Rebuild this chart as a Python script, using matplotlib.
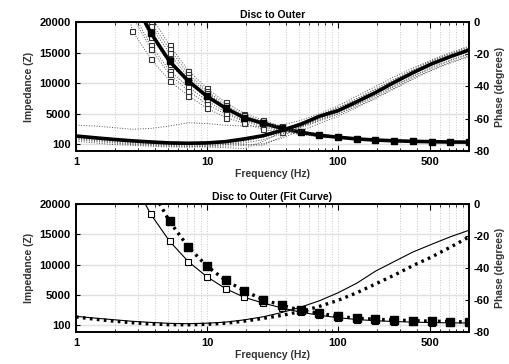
import matplotlib
matplotlib.use("Agg")
import matplotlib.pyplot as plt
from matplotlib.ticker import FixedLocator, FixedFormatter, NullFormatter, LogLocator

plt.rcParams['font.family'] = ['Liberation Sans', 'DejaVu Sans']

# frequencies, 7 per decade
freq = [1, 1.39, 1.93, 2.68, 3.73, 5.18, 7.2, 10, 13.9, 19.3, 26.8, 37.3, 51.8,
        72, 100, 139, 193, 268, 373, 518, 720, 1000]

# top panel: mean impedance and phase
imp_mean = [150000, 90000, 50000, 24000, 18200, 13600, 10400, 7900, 5950, 4400, 3500,
            2700, 2050, 1550, 1250, 960, 780, 660, 570, 510, 460, 440]
ph_mean = [-70.7, -71.8, -72.8, -73.7, -74.4, -75.0, -75.2, -75.0, -74.2, -72.5, -70.5,
           -67.2, -63.5, -58.5, -55.0, -49.5, -43.8, -37.5, -31.5, -26.0, -21.5, -17.4]

# top panel: individual samples
imp_a = [200000, 110000, 62000, 28000, 21000, 16200, 12100, 9200, 6900, 5100, 4000, 3000, 2300, 1750, 1400, 1080, 880, 740, 640, 570, 510, 490]
imp_b = [190000, 105000, 60000, 27000, 19900, 15600, 11500, 8800, 6500, 4800, 3800, 2850, 2200, 1650, 1330, 1020, 830, 700, 600, 540, 485, 465]
imp_c = [180000, 100000, 58000, 26000, 19300, 14900, 11000, 8500, 6200, 4600, 3650, 2750, 2100, 1600, 1280, 990, 800, 680, 585, 525, 470, 450]
imp_h = [170000, 95000, 55000, 25000, 18600, 13900, 10600, 8100, 6000, 4450, 3500, 2650, 2050, 1550, 1250, 960, 780, 660, 570, 510, 460, 440]
imp_d = [160000, 90000, 52000, 23500, 17600, 13200, 10000, 7700, 5700, 4300, 3350, 2550, 2000, 1500, 1220, 940, 760, 650, 560, 500, 452, 432]
imp_e = [150000, 85000, 48000, 21700, 16200, 12100, 9400, 7200, 5300, 4000, 3150, 2400, 1900, 1450, 1180, 910, 740, 630, 545, 490, 442, 423]
imp_f = [140000, 80000, 45000, 21000, 15600, 11500, 8800, 6600, 5000, 3800, 2900, 2250, 1800, 1400, 1130, 880, 710, 610, 530, 475, 430, 410]
imp_g = [120000, 70000, 38000, 18600, 14000, 10400, 8000, 5950, 4450, 3500, 2500, 2100, 1700, 1300, 1050, 820, 660, 570, 500, 450, 410, 390]

ph_1 = [-64, -64.5, -65.5, -66.5, -66, -64.5, -62.5, -63, -64, -64.5, -65, -64, -61, -57, -52, -46, -40, -34, -28.5, -23.5, -19, -15]
ph_2 = [-71.5, -72.5, -73.5, -74.5, -75.5, -76, -76.5, -76.5, -76, -75, -73, -69.5, -65.5, -61.5, -57, -51.5, -46, -40, -34, -28.5, -24, -20]
ph_3 = [-72.5, -73.5, -74.5, -75.5, -76, -76.5, -77, -77, -77, -76.5, -75.5, -72, -67.5, -63, -58.5, -53, -47.5, -41.5, -35.5, -30, -25.5, -21.5]
ph_4 = [-70.5, -71.5, -72.5, -73.5, -74.5, -75, -75.5, -75.5, -75.5, -76, -76.5, -71, -65, -60, -55, -49, -43, -36.5, -30.5, -25, -20.5, -16.5]
ph_5 = [-73, -74, -75, -76, -76.5, -77, -77.5, -77.5, -78, -78.5, -74, -68, -63, -58, -53, -47.5, -41.5, -35.5, -29.5, -24, -19.5, -15.5]
ph_6 = [-71, -72, -73, -74, -75, -75.5, -76, -76, -75, -73.5, -71, -68, -64.5, -60.5, -56, -51, -45.5, -39.5, -33.5, -28, -23.5, -19.5]
ph_7 = [-72, -73, -74, -75, -75.5, -76, -76, -75.5, -74.5, -72.5, -70, -66.5, -62.5, -58, -53.5, -48, -42, -36, -30, -24.5, -20, -16]
ph_8 = [-74, -75, -76, -76.5, -77, -77.5, -77.5, -77, -76, -74, -71.5, -68.5, -65, -61, -57, -52.5, -47, -41, -35, -29.5, -25, -21]

imp_samples = [imp_a, imp_b, imp_c, imp_h, imp_d, imp_e, imp_f, imp_g]
ph_samples = [ph_1, ph_2, ph_3, ph_4, ph_5, ph_6, ph_7, ph_8]

# bottom panel: two fit curves
imp_fit1 = [150000, 90000, 50000, 24000, 18300, 13900, 10550, 8060, 6100, 4690, 3750,
            2950, 2250, 1750, 1350, 1050, 850, 720, 620, 550, 500, 470]
imp_fit2 = [200000, 110000, 60000, 33000, 22600, 17150, 12950, 9800, 7460, 5750, 4300,
            3390, 2570, 2085, 1550, 1270, 1100, 960, 870, 780, 720, 640]
ph_fit1 = [-70.2, -71.3, -72.3, -73.3, -74.0, -74.6, -74.8, -74.5, -73.8, -72.4, -70.5,
           -67.8, -64.5, -60.5, -55.5, -49.5, -42, -36, -30, -25.2, -20.5, -16.4]
ph_fit2 = [-70.6, -72, -73.2, -74.2, -75, -75.4, -75.5, -75.2, -74.5, -73.2, -71.5,
           -69.6, -67.2, -64, -60.2, -55.5, -50, -44.5, -38.5, -33.1, -27, -20.6]

imp_ticks = [100, 5000, 10000, 15000, 20000]
ph_ticks = [-80, -60, -40, -20, 0]
x_ticks = [1, 10, 100, 500]

fig = plt.figure(figsize=(5.1, 3.64), dpi=100)
ax_top = fig.add_axes([0.149, 0.5852, 0.7706, 0.3544])
ax_bot = fig.add_axes([0.149, 0.0879, 0.7706, 0.3516])

big_dots = (0, (0.8, 1.3))


def style_axes(ax, title):
    ax.set_xscale('log')
    twin = ax.twinx()
    ax.set_xlim(1, 1000)
    ax.set_ylim(-1000, 20000)
    ax.set_yticks(imp_ticks)
    ax.set_yticklabels([str(t) for t in imp_ticks], fontweight='bold', fontsize=8)
    ax.xaxis.set_major_locator(FixedLocator(x_ticks))
    ax.xaxis.set_major_formatter(FixedFormatter([str(t) for t in x_ticks]))
    ax.xaxis.set_minor_locator(LogLocator(base=10, subs=range(2, 10)))
    ax.xaxis.set_minor_formatter(NullFormatter())
    for lab in ax.get_xticklabels():
        lab.set_fontweight('bold')
        lab.set_fontsize(8)
    ax.tick_params(axis='x', which='both', direction='in', top=True, pad=4)
    ax.tick_params(axis='x', which='major', length=4)
    ax.tick_params(axis='x', which='minor', length=2)
    ax.tick_params(axis='y', direction='in', length=3, pad=4)
    ax.grid(True, axis='y', color='#e0e0e0', linewidth=1.0)
    ax.grid(True, axis='x', which='both', color='#c8c8c8', linestyle=':', linewidth=0.7)
    ax.set_axisbelow(True)
    for s in ax.spines.values():
        s.set_linewidth(1.2)
    ax.set_xlabel('Frequency (Hz)', fontweight='bold', fontsize=7.5, color='#333333', labelpad=2)
    ax.set_ylabel('Impedance (Z)', fontweight='bold', fontsize=7.5, color='#333333', labelpad=4)
    ax.set_title(title, fontweight='bold', fontsize=7.5, pad=3)
    twin.set_ylim(-80, 0)
    twin.set_yticks(ph_ticks)
    twin.set_yticklabels([str(t) for t in ph_ticks], fontweight='bold', fontsize=8)
    twin.tick_params(axis='y', direction='in', length=3, pad=3)
    twin.set_ylabel('Phase (degrees)', fontweight='bold', fontsize=7.5, color='#333333', labelpad=4)
    for s in twin.spines.values():
        s.set_linewidth(1.2)
    return twin


# top panel
tw_top = style_axes(ax_top, 'Disc to Outer')
for vals in imp_samples:
    ax_top.plot(freq, vals, color='#555555', linestyle=':', linewidth=0.7)
    ax_top.plot(freq[3:12], vals[3:12], linestyle='none', marker='s', markersize=3.6,
                markerfacecolor='white', markeredgecolor='#333333', markeredgewidth=0.8)
for vals in ph_samples:
    tw_top.plot(freq, vals, color='#555555', linestyle=':', linewidth=0.7)
ax_top.plot(freq, imp_mean, color='black', linewidth=2.6, marker='s', markersize=5,
            markerfacecolor='black')
tw_top.plot(freq, ph_mean, color='black', linewidth=2.6)

# bottom panel
tw_bot = style_axes(ax_bot, 'Disc to Outer (Fit Curve)')
ax_bot.plot(freq, imp_fit1, color='black', linewidth=0.8, marker='s', markersize=3.8,
            markerfacecolor='white', markeredgecolor='black', markeredgewidth=0.8)
ax_bot.plot(freq, imp_fit2, color='black', linewidth=2.4, linestyle=big_dots, marker='s',
            markersize=5.5, markerfacecolor='black')
tw_bot.plot(freq, ph_fit1, color='black', linewidth=0.8)
tw_bot.plot(freq, ph_fit2, color='black', linewidth=2.4, linestyle=big_dots)

fig.savefig('out.png', dpi=100)
